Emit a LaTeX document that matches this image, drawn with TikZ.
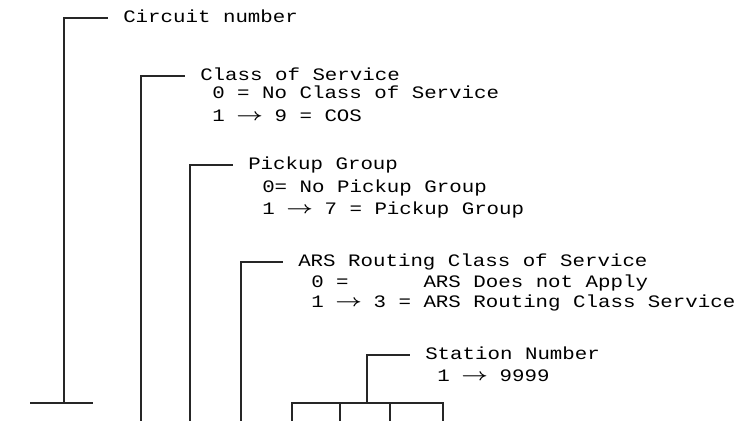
\documentclass[tikz,border=0pt]{standalone}
\usepackage{fontspec}
\usepackage{graphicx}
\usepackage{tikz}
\usetikzlibrary{positioning}
\newfontfamily\plotfont[FakeStretch=1.19]{Liberation Mono}
\newcommand{\arr}{\makebox[18.7pt]{\raisebox{0.08em}{\scalebox{1.45}[1.05]{\boldmath$\rightarrow$}}}}

\begin{document}
\begin{tikzpicture}[
    x=0.75pt, y=-0.75pt,
    font=\plotfont\fontsize{13.1}{16}\selectfont,
    title/.style={anchor=west, inner xsep=11.25pt, inner ysep=0pt, text height=0.69em, text depth=0pt},
    item/.style={anchor=west, inner sep=0pt, text height=0.69em, text depth=0pt},
    lead/.style={line width=1.4pt, draw=black!85}
  ]
    \useasboundingbox (0,0) rectangle (743,421);

    \node[title] (circuit) at (108,18) {Circuit number};

    \node[title] (cos) at (185,76) {Class of Service};
    \node[item] (cosnone) at (212,94) {0 = No Class of Service};
    \node[item] (cosrange) at (212,117) {1 \arr{} 9 = COS};

    \node[title] (pickup) at (233,165) {Pickup Group};
    \node[item] (pickupnone) at (262,188) {0= No Pickup Group};
    \node[item] (pickuprange) at (262,210) {1 \arr{} 7 = Pickup Group};

    \node[title] (ars) at (283,262) {ARS Routing Class of Service};
    \node[item] (arsnone) at (311,283) {0 =~~~~~~ARS Does not Apply};
    \node[item] (arsrange) at (311,303) {1 \arr{} 3 = ARS Routing Class Service};

    \node[title] (station) at (410,355) {Station Number};
    \node[item] (stationrange) at (437,377) {1 \arr{} 9999};

    \coordinate (circuitfoot) at (64,403);
    \coordinate (barleft) at (30,403);
    \coordinate (barright) at (93,403);
    \coordinate (cosfoot) at (141,421);
    \coordinate (pickupfoot) at (190,421);
    \coordinate (arsfoot) at (241,421);
    \coordinate (boxtop) at (367,403);

    \draw[lead] (barleft) -- (barright);
    \draw[lead] (circuitfoot) |- (circuit.west);
    \draw[lead] (cosfoot) |- (cos.west);
    \draw[lead] (pickupfoot) |- (pickup.west);
    \draw[lead] (arsfoot) |- (ars.west);
    \draw[lead] (boxtop) |- (station.west);

    % digit cells of the station number
    \draw[lead] (292,421) -- (292,403) -- (443,403) -- (443,421);
    \foreach \x in {340,390}
      \draw[lead] (\x,403) -- (\x,421);
  \end{tikzpicture}
\end{document}
